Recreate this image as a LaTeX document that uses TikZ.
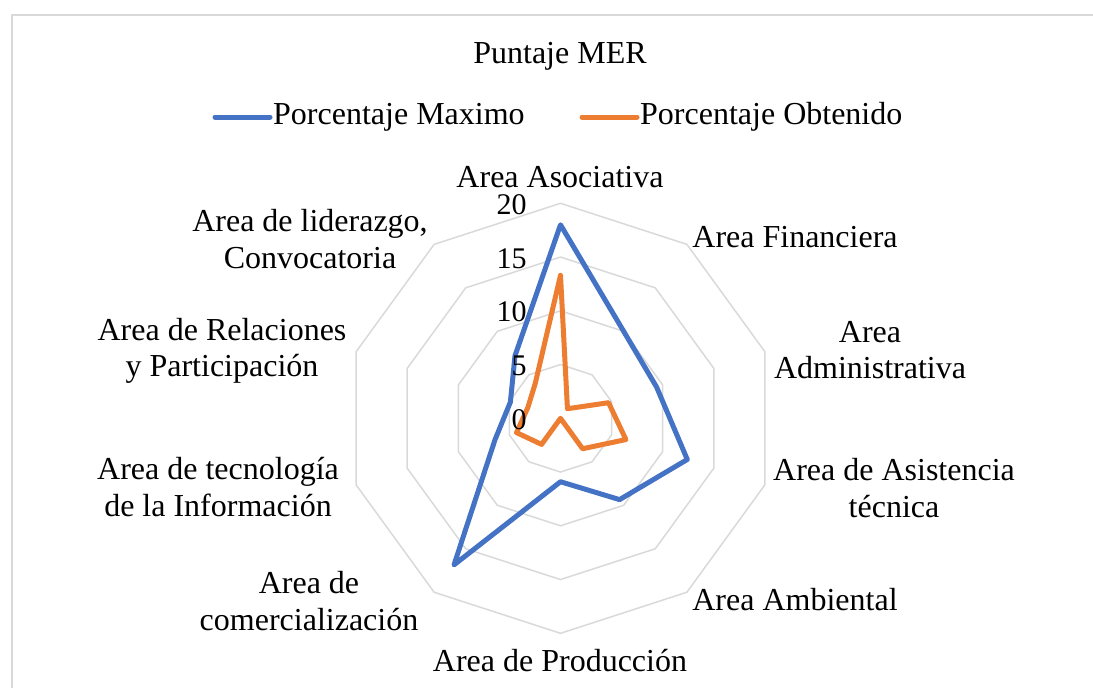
\documentclass[tikz,border=0pt]{standalone}
\usepackage{fontspec}
\setmainfont{Liberation Serif}
\definecolor{serA}{HTML}{4472C4}
\definecolor{serB}{HTML}{ED7D31}
\definecolor{gridc}{HTML}{D9D9D9}
\begin{document}
\begin{tikzpicture}[x=1pt,y=-1pt,
  lbl/.style={font=\fontsize{32}{36.5}\selectfont, align=center, inner sep=0pt},
  tick/.style={font=\fontsize{30}{34}\selectfont, inner sep=0pt, anchor=east},
  gridline/.style={draw=gridc, line width=1.5pt},
  serieA/.style={draw=serA, line width=5pt, line join=round},
  serieB/.style={draw=serB, line width=5pt, line join=round}]
\useasboundingbox (0,0) rectangle (1093,688);
\begin{scope}
\clip (0,0) rectangle (1093,688);
\draw[gridc, line width=1.5pt] (12,15) rectangle (1110,705);
\end{scope}
% title and legend
\node[lbl] (title) at (560,56) {Puntaje MER};
\coordinate (la1) at (215,117);
\coordinate (la2) at (270,117);
\draw[serieA, line cap=round] (la1) -- (la2);
\node[lbl, anchor=west] (legA) at (273,117) {Porcentaje Maximo};
\coordinate (lb1) at (582,117);
\coordinate (lb2) at (637,117);
\draw[serieB, line cap=round] (lb1) -- (lb2);
\node[lbl, anchor=west] (legB) at (640,117) {Porcentaje Obtenido};
% radar
\begin{scope}[shift={(560.5,418.3)}]
\coordinate (C) at (0,0);
\foreach \r in {1,2,3,4}{
  \draw[gridline] (270:{\r*53.75}) \foreach \k in {1,...,9}{ -- ({270+36*\k}:{\r*53.75})} -- cycle;
}
\foreach \v [count=\i from 0] in {18.0,10.0,9.4,12.4,9.35,5.9,16.85,6.4,4.9,7.2}
  \coordinate (a\i) at ({270+36*\i}:{\v*10.75});
\foreach \v [count=\i from 0] in {13.3,1.1,4.7,6.4,3.5,0,3.0,4.3,3.2,4.0}
  \coordinate (b\i) at ({270+36*\i}:{\v*10.75});
\draw[serieA] (a0) -- (a1) -- (a2) -- (a3) -- (a4) -- (a5) -- (a6) -- (a7) -- (a8) -- (a9) -- cycle;
\draw[serieB] (b0) -- (b1) -- (b2) -- (b3) -- (b4) -- (b5) -- (b6) -- (b7) -- (b8) -- (b9) -- cycle;
\end{scope}
% tick labels
\node[tick] (t20) at (526.7,204.5) {20};
\node[tick] (t15) at (526.7,258.3) {15};
\node[tick] (t10) at (526.7,312.0) {10};
\node[tick] (t5) at (526.7,365.8) {5};
\node[tick] (t0) at (526.7,419.5) {0};
% axis labels
\node[lbl] (l0) at (560,177) {Area Asociativa};
\node[lbl] (l1) at (795,237) {Area Financiera};
\node[lbl] (l2) at (870,350) {Area\\Administrativa};
\node[lbl] (l3) at (894,488) {Area de Asistencia\\técnica};
\node[lbl] (l4) at (795,600) {Area Ambiental};
\node[lbl] (l5) at (560,661) {Area de Producción};
\node[lbl] (l6) at (309,601) {Area de\\comercialización};
\node[lbl] (l7) at (218,487) {Area de tecnología\\de la Información};
\node[lbl] (l8) at (222,351) {Area de Relaciones\\y Participación};
\node[lbl] (l9) at (310,239) {Area de liderazgo,\\Convocatoria};
\end{tikzpicture}
\end{document}
